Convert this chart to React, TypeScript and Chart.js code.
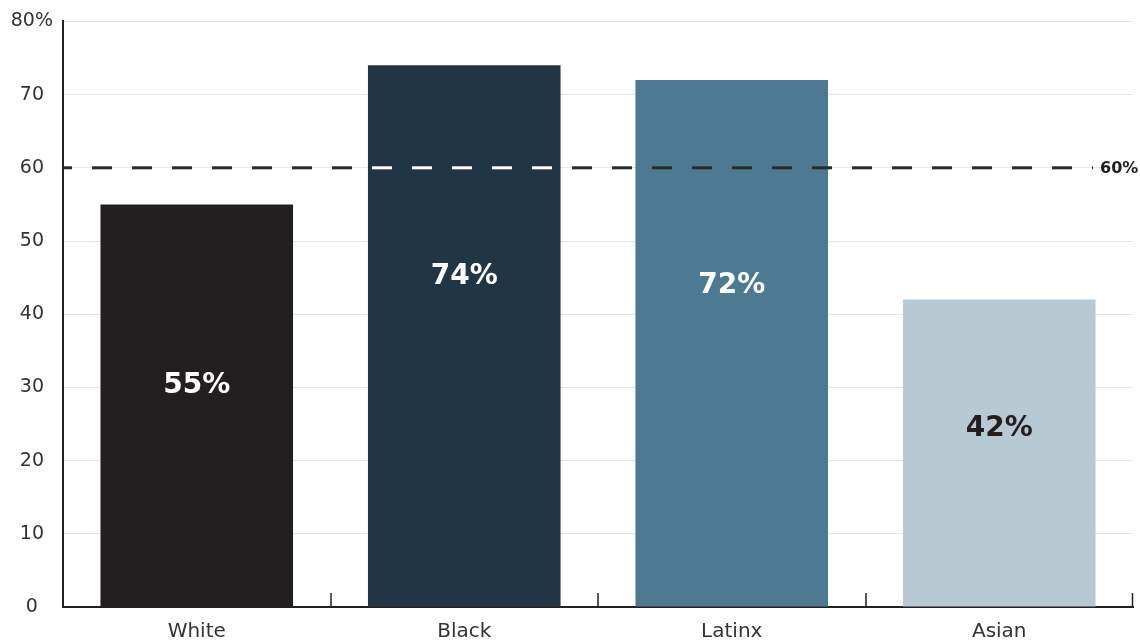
import React, { useEffect, useRef } from "react";
import { Chart, registerables } from "chart.js";

Chart.register(...registerables);

const categories = ["White", "Black", "Latinx", "Asian"];
const values = [55, 74, 72, 42];
const barColors = ["#231f20", "#203644", "#4d7a91", "#b7c9d3"];
const labelColors = ["#ffffff", "#ffffff", "#ffffff", "#231f20"];
const yTickValues = [0, 10, 20, 30, 40, 50, 60, 70, 80];
const targetValue = 60;
const targetLabel = "60%";
// dashes over these bars are drawn white
const whiteDashOverBar = [false, true, false, false];

const FONT = "'DejaVu Sans', 'Open Sans', sans-serif";

const overlayPlugin = {
  id: "overlay",
  afterDatasetsDraw(chart: any) {
    const { ctx, chartArea, scales } = chart;
    const x = scales.x;
    const y = scales.y;
    const meta = chart.getDatasetMeta(0);

    // category boundary ticks pointing up
    ctx.save();
    ctx.strokeStyle = "#222";
    ctx.lineWidth = 1.5;
    for (let i = 1; i <= categories.length; i++) {
      const px = Math.round((x.getPixelForValue(i - 1) + x.getPixelForValue(i)) / 2);
      const bx = i === categories.length ? chartArea.right - 0.5 : px;
      ctx.beginPath();
      ctx.moveTo(bx, chartArea.bottom);
      ctx.lineTo(bx, chartArea.bottom - 14);
      ctx.stroke();
    }
    ctx.restore();

    // dashed target line
    const ty = y.getPixelForValue(targetValue);
    const drawDash = (color: string) => {
      ctx.beginPath();
      ctx.setLineDash([20, 20]);
      ctx.lineDashOffset = 11;
      ctx.strokeStyle = color;
      ctx.lineWidth = 3;
      ctx.moveTo(chartArea.left, ty);
      ctx.lineTo(chartArea.right - 40, ty);
      ctx.stroke();
    };
    ctx.save();
    drawDash("#2a2a2a");
    ctx.restore();
    meta.data.forEach((bar: any, i: number) => {
      if (!whiteDashOverBar[i]) return;
      const w = bar.width;
      ctx.save();
      ctx.beginPath();
      ctx.rect(bar.x - w / 2, bar.y, w, bar.base - bar.y);
      ctx.clip();
      drawDash("#ffffff");
      ctx.restore();
    });

    ctx.save();
    ctx.fillStyle = "#1e1e1e";
    ctx.font = `bold 16px ${FONT}`;
    ctx.textAlign = "left";
    ctx.textBaseline = "middle";
    ctx.fillText(targetLabel, chartArea.right - 33, ty + 1);
    ctx.restore();

    // bar value labels
    const anchor = [0.55, 0.61, 0.61, 0.58];
    ctx.save();
    ctx.font = `bold 28px ${FONT}`;
    ctx.textAlign = "center";
    ctx.textBaseline = "middle";
    meta.data.forEach((bar: any, i: number) => {
      ctx.fillStyle = labelColors[i];
      ctx.fillText(values[i] + "%", bar.x, y.getPixelForValue(values[i] * anchor[i]));
    });
    ctx.restore();
  },
};

export default function App() {
  const ref = useRef<HTMLCanvasElement>(null);
  useEffect(() => {
    if (!ref.current) return;
    const chart = new Chart(ref.current, {
      type: "bar",
      data: {
        labels: categories,
        datasets: [
          {
            data: values,
            backgroundColor: barColors,
            borderWidth: 0,
            barPercentage: 0.72,
            categoryPercentage: 1,
          },
        ],
      },
      options: {
        animation: false,
        responsive: true,
        maintainAspectRatio: false,
        layout: { padding: { top: 21, right: 7, left: 0, bottom: 0 } },
        plugins: { legend: { display: false }, tooltip: { enabled: false } },
        scales: {
          x: {
            grid: { display: false },
            border: { display: true, color: "#222", width: 2 },
            ticks: {
              color: "#333",
              font: { family: FONT, size: 20 },
              padding: 5,
            },
            afterFit(scale: any) {
              scale.height = 33;
            },
          },
          y: {
            min: 0,
            max: 80,
            afterBuildTicks(scale: any) {
              scale.ticks = yTickValues.map((v) => ({ value: v }));
            },
            grid: { color: "#e6e6e6", lineWidth: 1, drawTicks: false },
            border: { display: true, color: "#222", width: 2 },
            ticks: {
              color: "#333",
              font: { family: FONT, size: 19 },
              crossAlign: "center",
              padding: 10,
              callback: (v: any) => (v === 80 ? v + "%" : String(v)),
            },
            afterFit(scale: any) {
              scale.width = 63;
            },
          },
        },
      },
      plugins: [overlayPlugin],
    });
    return () => chart.destroy();
  }, []);
  return (
    <div style={{ position: "absolute", left: 0, top: 0, width: 1140, height: 640, background: "#fff" }}>
      <canvas ref={ref} />
    </div>
  );
}
